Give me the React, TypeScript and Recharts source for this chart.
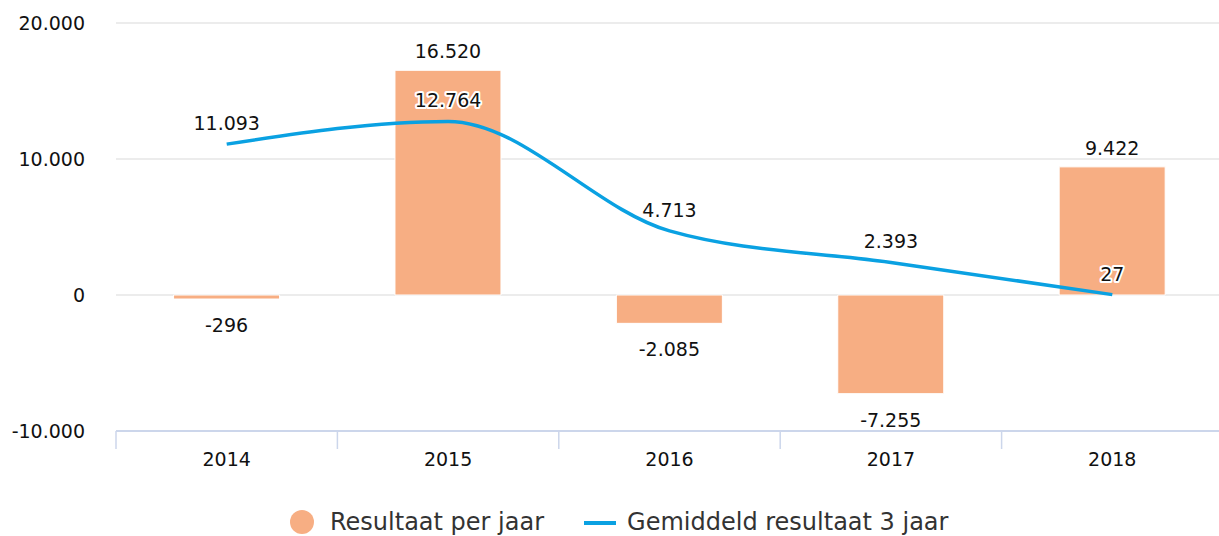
import React from "react";
import {
	ComposedChart,
	Bar,
	Line,
	XAxis,
	YAxis,
	CartesianGrid,
	LabelList,
} from "recharts";

// values
const years = ["2014", "2015", "2016", "2017", "2018"];
const resultPerYear = [-296, 16520, -2085, -7255, 9422];
const avgThreeYears = [11093, 12764, 4713, 2393, 27];
const yTicks = [-10000, 0, 10000, 20000];

const chartData = years.map((year, i) => ({
	year,
	result: resultPerYear[i],
	avg: avgThreeYears[i],
}));

const CHART_W = 1219;
const CHART_H = 536;
const Y_AXIS_W = 116;
const RIGHT_MARGIN = -4; // plot area runs a little past the picture's right edge
const FONT = "'DejaVu Sans', Verdana, sans-serif";
const BAR_COLOR = "#f7ae83";
const LINE_COLOR = "#0aa1e2";
const AXIS_COLOR = "#ccd6eb";

const catWidth = (CHART_W - Y_AXIS_W - RIGHT_MARGIN) / years.length;

const fmt = (v: number) =>
	(v < 0 ? "-" : "") +
	Math.abs(v)
		.toString()
		.replace(/\B(?=(\d{3})+(?!\d))/g, ".");

// category label with tick mark on the left boundary (ticks between categories)
const XTick = (props: any) => {
	const { x, y, payload } = props;
	const left = x - catWidth / 2;
	return (
		<g>
			<line x1={left} x2={left} y1={y} y2={y + 18} stroke={AXIS_COLOR} strokeWidth={1.5} />
			<text
				x={x}
				y={y + 28}
				textAnchor="middle"
				dominantBaseline="central"
				fontSize={19}
				fontFamily={FONT}
				fill="#111"
			>
				{payload.value}
			</text>
		</g>
	);
};

const BarLabel = (props: any) => {
	const { x, y, width, height, value } = props;
	const top = Math.min(y, y + height);
	const bottom = Math.max(y, y + height);
	const cy = value >= 0 ? top - 19 : bottom + 26;
	return (
		<text
			x={x + width / 2}
			y={cy}
			textAnchor="middle"
			dominantBaseline="central"
			fontSize={19}
			fontFamily={FONT}
			fill="#111"
		>
			{fmt(value)}
		</text>
	);
};

const LineLabel = (props: any) => {
	const { x, y, value } = props;
	return (
		<text
			x={x}
			y={y - 21}
			textAnchor="middle"
			dominantBaseline="central"
			fontSize={19}
			fontFamily={FONT}
			fill="#111"
			stroke="#fff"
			strokeWidth={4}
			strokeLinejoin="round"
			paintOrder="stroke"
		>
			{fmt(value)}
		</text>
	);
};

export default function App() {
	return (
		<div
			style={{
				position: "absolute",
				left: 0,
				top: 0,
				width: CHART_W,
				height: CHART_H,
				overflow: "hidden",
				background: "#fff",
				fontFamily: FONT,
			}}
		>
			<ComposedChart
				width={CHART_W}
				height={CHART_H}
				data={chartData}
				margin={{ top: 23, right: RIGHT_MARGIN, left: 0, bottom: 55 }}
				barCategoryGap="26%"
			>
				<CartesianGrid vertical={false} stroke="#e6e6e6" strokeWidth={1.5} />
				<XAxis
					dataKey="year"
					height={50}
					axisLine={{ stroke: AXIS_COLOR, strokeWidth: 2 }}
					tickLine={false}
					tickSize={0}
					tickMargin={0}
					tick={<XTick />}
					interval={0}
				/>
				<YAxis
					width={Y_AXIS_W}
					domain={[-10000, 20000]}
					ticks={yTicks}
					tickFormatter={fmt}
					axisLine={false}
					tickLine={false}
					tickSize={0}
					tickMargin={31}
					tick={{ fontSize: 19, fontFamily: FONT, fill: "#111" }}
				/>
				<Bar
					dataKey="result"
					fill={BAR_COLOR}
					stroke="#fff"
					strokeWidth={1}
					isAnimationActive={false}
				>
					<LabelList dataKey="result" content={<BarLabel />} />
				</Bar>
				<Line
					type="monotone"
					dataKey="avg"
					stroke={LINE_COLOR}
					strokeWidth={3.5}
					dot={false}
					activeDot={false}
					isAnimationActive={false}
				>
					<LabelList dataKey="avg" content={<LineLabel />} />
				</Line>
			</ComposedChart>
			<div
				style={{
					position: "absolute",
					left: 290,
					top: 509,
					display: "flex",
					alignItems: "center",
					fontSize: 24,
					lineHeight: "26px",
					color: "#333",
					whiteSpace: "nowrap",
				}}
			>
				<svg width={24} height={26} style={{ marginRight: 16 }}>
					<circle cx={12} cy={13} r={12} fill={BAR_COLOR} />
				</svg>
				<span>Resultaat per jaar</span>
				<svg width={32} height={26} style={{ marginLeft: 40, marginRight: 11 }}>
					<line x1={0} x2={32} y1={14} y2={14} stroke={LINE_COLOR} strokeWidth={4} />
				</svg>
				<span>Gemiddeld resultaat 3 jaar</span>
			</div>
		</div>
	);
}
